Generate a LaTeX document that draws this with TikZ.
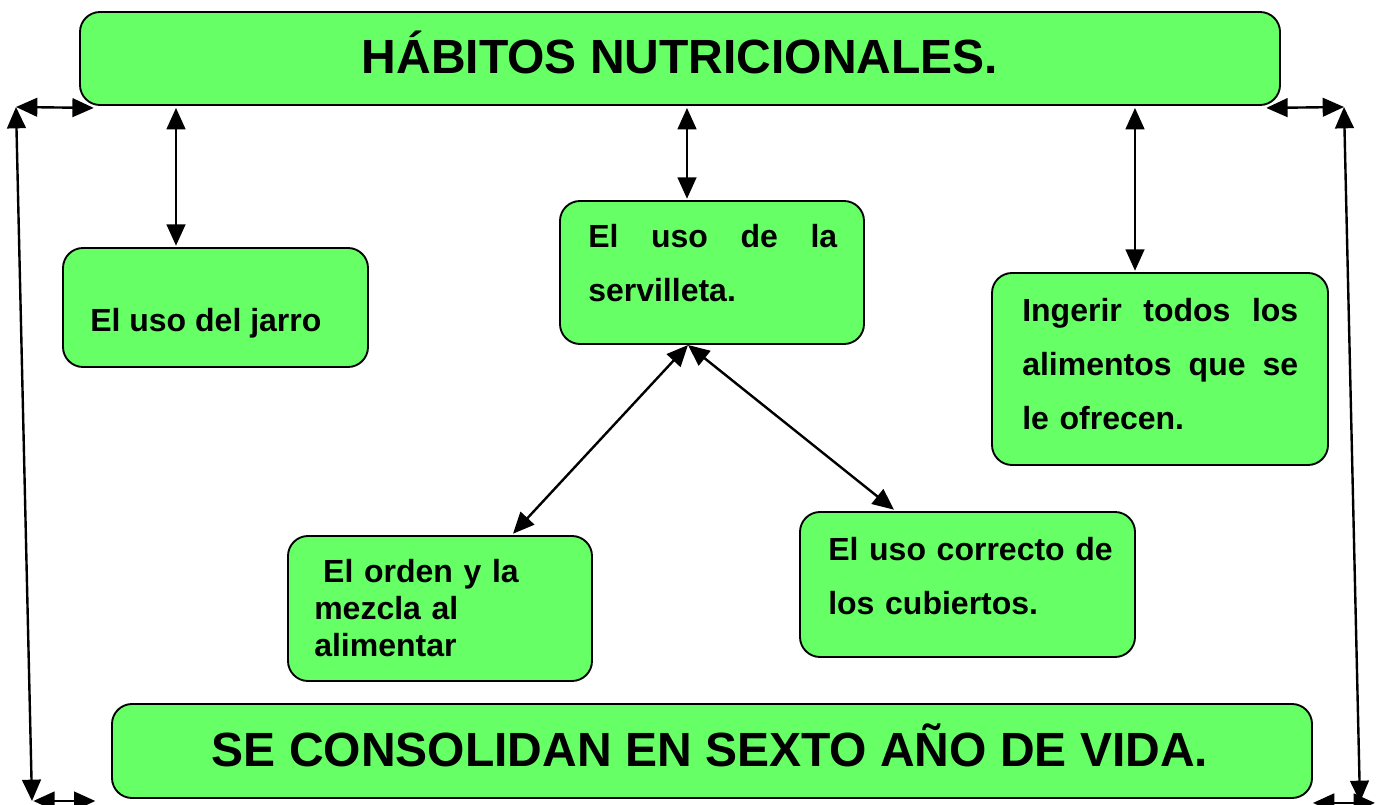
\documentclass[tikz,border=0pt]{standalone}
\usepackage{fontspec}
\setmainfont{Liberation Sans}
\usetikzlibrary{arrows.meta}
\definecolor{boxgreen}{HTML}{66FF66}
\tikzset{
  habito/.style={draw, fill=boxgreen, line width=1.4pt, rounded corners=15pt, inner sep=0pt},
  lema/.style={font=\fontsize{36}{40}\selectfont\bfseries, anchor=base, inner sep=0pt},
  texto/.style={font=\fontsize{24}{40.5}\selectfont\bfseries, anchor=base west, inner sep=0pt, align=left},
  punta/.tip={Triangle[length=16pt,width=14pt]},
  dbl/.style={punta-punta, line width=1.8pt}
}

\begin{document}
\begin{tikzpicture}[x=0.75pt, y=-0.75pt]
\useasboundingbox (0,0) rectangle (1381,805);
% boxes
\node[habito, minimum width=900pt, minimum height=69.75pt] (titulo) at (680,58.5) {};
\node[habito, minimum width=228.75pt, minimum height=89.25pt] (jarro) at (215.5,307.5) {};
\node[habito, minimum width=228pt, minimum height=107.25pt] (serv) at (712,272.5) {};
\node[habito, minimum width=252pt, minimum height=144pt] (ingerir) at (1160,369) {};
\node[habito, minimum width=228pt, minimum height=108.75pt] (orden) at (440,608.5) {};
\node[habito, minimum width=251.25pt, minimum height=108.75pt] (cubiertos) at (967.5,584.5) {};
\node[habito, minimum width=900pt, minimum height=70.5pt] (sexto) at (712,751) {};
% texts
\node[lema] (titulotxt) at (680,74) {HÁBITOS NUTRICIONALES.};
\node[lema] (sextotxt) at (710,766) {SE CONSOLIDAN EN SEXTO AÑO DE VIDA.};
\node[texto] (jarrotxt) at (90,332) {El uso del jarro};
\node[texto, text width=186.75pt] (servtxt) at (588,248) {El\hfill uso\hfill de\hfill la\\servilleta.};
\node[texto, text width=207pt] (ingerirtxt) at (1022,322) {Ingerir\hfill todos\hfill los\\alimentos\hfill que\hfill se\\le ofrecen.};
\node[texto, text width=210pt, font=\fontsize{24}{27.75}\selectfont\bfseries] (ordentxt) at (314,582) {\hspace*{0.278em}El orden y la\\mezcla al\\alimentar};
\node[texto, text width=230pt] (cubiertostxt) at (828,560) {El uso correcto de\\los cubiertos.};
% corners
\coordinate (tl) at (16,107);
\coordinate (bl) at (32,801);
\coordinate (tr) at (1344,107);
\coordinate (br) at (1360,802);
\coordinate (servpie) at (688,345);
% arrows
\draw[dbl] (tl) -- ([xshift=11pt,yshift=-1.5pt]titulo.south west);
\draw[dbl] ([xshift=-11pt,yshift=-1.5pt]titulo.south east) -- (tr);
\draw[dbl] (tl) -- (bl);
\draw[dbl] (tr) -- (br);
\draw[dbl] ([xshift=1pt]bl) -- ++(62,0);
\draw[dbl] ([yshift=-3pt]sexto.south east) -- ++(62,0);
\draw[dbl] ([yshift=-1.5pt]titulo.south -| 176,0) -- ([yshift=1pt]jarro.north -| 176,0);
\draw[dbl] ([yshift=-1.5pt]titulo.south -| 687,0) -- ([yshift=1pt]serv.north -| 687,0);
\draw[dbl] ([yshift=-1.5pt]titulo.south -| 1135,0) -- ([yshift=1pt]ingerir.north -| 1135,0);
\draw[dbl] (servpie) -- ([yshift=1pt]orden.north -| 513,0);
\draw[dbl] (servpie) -- ([yshift=1pt]cubiertos.north -| 894,0);
\end{tikzpicture}
\end{document}
